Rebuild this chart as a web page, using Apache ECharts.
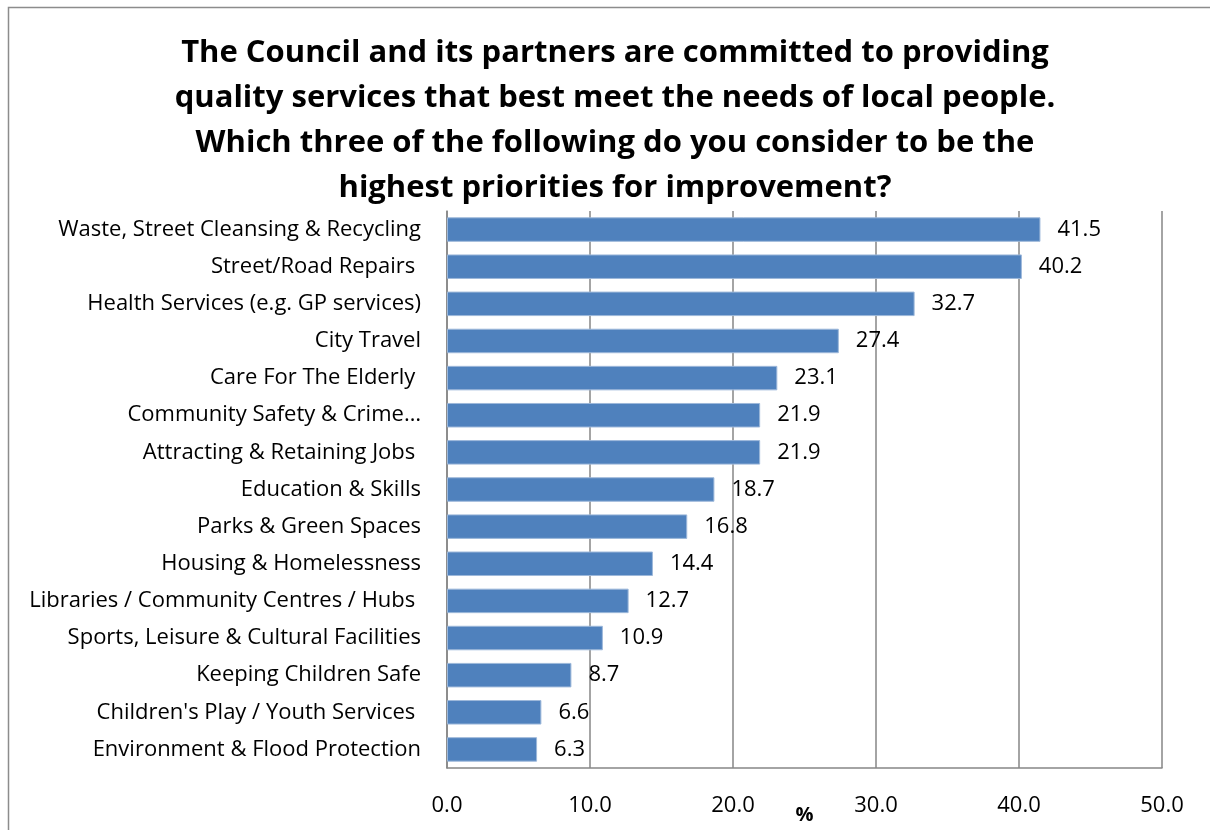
<!DOCTYPE html>
<html>
<head>
<meta charset="utf-8">
<title>Priorities for improvement</title>
<script src="https://cdn.jsdelivr.net/npm/echarts@6/dist/echarts.min.js"></script>
<style>
  html, body { margin: 0; padding: 0; background: #ffffff; }
  #chart { width: 1210px; height: 830px; }
</style>
</head>
<body>
<div id="chart"></div>
<script>
// Survey responses: share of respondents (%) naming each service among their top three
const categories = [
  'Waste, Street Cleansing & Recycling',
  'Street/Road Repairs ',
  'Health Services (e.g. GP services)',
  'City Travel',
  'Care For The Elderly ',
  'Community Safety & Crime\u2026',
  'Attracting & Retaining Jobs ',
  'Education & Skills',
  'Parks & Green Spaces',
  'Housing & Homelessness',
  'Libraries / Community Centres / Hubs ',
  'Sports, Leisure & Cultural Facilities',
  'Keeping Children Safe',
  "Children's Play / Youth Services ",
  'Environment & Flood Protection'
];
const percentages = [41.5, 40.2, 32.7, 27.4, 23.1, 21.9, 21.9, 18.7, 16.8, 14.4, 12.7, 10.9, 8.7, 6.6, 6.3];
const axisTicks = [0, 10, 20, 30, 40, 50];

const titleText = 'The Council and its partners are committed to providing\n' +
  'quality services that best meet the needs of local people.\n' +
  'Which three of the following do you consider to be the\n' +
  'highest priorities for improvement?';

const FONT = '"Open Sans", Lato, sans-serif';
const chart = echarts.init(document.getElementById('chart'));

chart.setOption({
  animation: false,
  backgroundColor: '#ffffff',
  title: {
    text: titleText,
    left: 610,
    top: 26,
    textAlign: 'center',
    textStyle: {
      fontFamily: FONT,
      fontSize: 31,
      fontWeight: 'bold',
      color: '#000000',
      lineHeight: 45
    }
  },
  graphic: [{
    type: 'rect',
    shape: { x: 8.5, y: 7.5, width: 1400, height: 1000 },
    style: { fill: 'none', stroke: '#8c8c8c', lineWidth: 1.5 },
    silent: true,
    z: -1
  }],
  grid: { left: 447, right: 48, top: 211, bottom: 62, outerBoundsMode: 'none', containLabel: false },
  xAxis: {
    type: 'value',
    min: axisTicks[0],
    max: axisTicks[axisTicks.length - 1],
    interval: axisTicks[1] - axisTicks[0],
    name: '%',
    nameLocation: 'middle',
    nameGap: 37,
    nameMoveOverlap: false,
    nameTextStyle: { fontFamily: FONT, fontSize: 20, fontWeight: 'bold', color: '#000' },
    axisLine: { show: true, lineStyle: { color: '#868686', width: 1.5 } },
    axisTick: { show: false },
    splitLine: { show: true, lineStyle: { color: '#868686', width: 1.5 } },
    axisLabel: {
      margin: 27,
      fontFamily: FONT,
      fontSize: 22,
      color: '#000',
      formatter: v => v.toFixed(1)
    }
  },
  yAxis: {
    type: 'category',
    data: categories,
    inverse: true,
    axisLine: { show: true, lineStyle: { color: '#868686', width: 1.5 } },
    axisTick: { show: false },
    axisLabel: {
      margin: 26,
      fontFamily: FONT,
      fontSize: 22,
      color: '#000'
    }
  },
  series: [{
    type: 'bar',
    data: percentages,
    barCategoryGap: '34%',
    itemStyle: { color: '#4f81bd', borderColor: '#9db8da', borderWidth: 1 },
    label: {
      show: true,
      position: 'right',
      distance: 17,
      fontFamily: FONT,
      fontSize: 22,
      color: '#000',
      formatter: p => p.value.toFixed(1)
    }
  }]
});
</script>
</body>
</html>
